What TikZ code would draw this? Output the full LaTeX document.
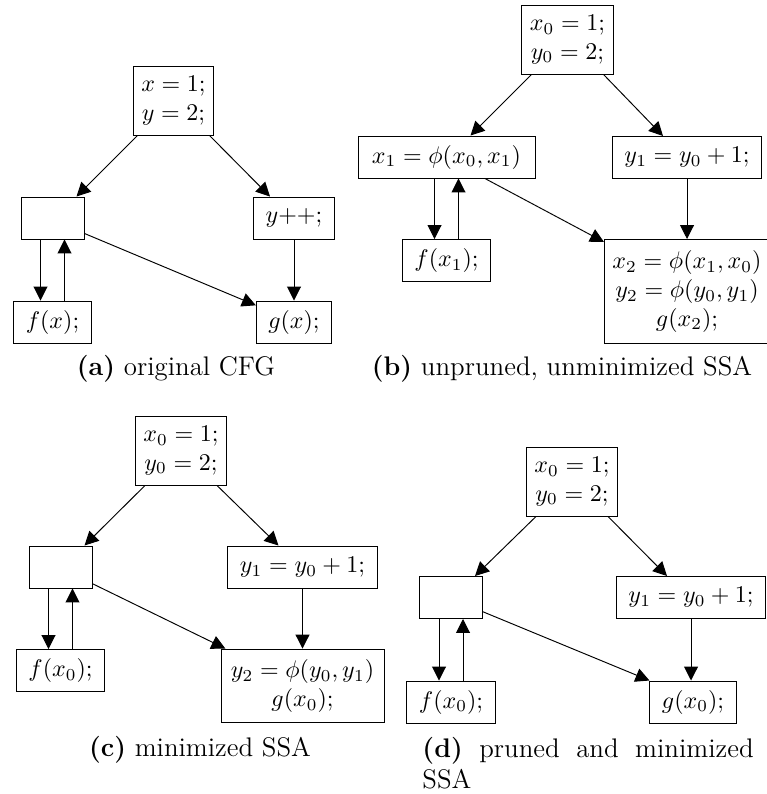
\documentclass[tikz,border=0pt]{standalone}
\usetikzlibrary{arrows.meta,positioning}
\tikzset{
  block/.style={draw, inner xsep=5pt, inner ysep=3pt, minimum height=17.5pt},
  entry/.style={draw, align=center, inner sep=3.33pt, minimum height=28.75pt},
  merge/.style={draw, align=center, inner sep=3.33pt},
  void/.style={block, minimum width=26.25pt},
  flow/.style={-{Triangle[length=5.8pt,width=5.8pt]}},
  subcap/.style={inner sep=0pt, anchor=base, font=\fontsize{11.2pt}{13pt}\selectfont}
}
\begin{document}
\begin{tikzpicture}[x=0.41667pt, y=-0.41667pt]
\useasboundingbox (0,0) rectangle (766,794);

% (a) original CFG
\node[entry] (a0) at (173.5,100.5) {$x = 1;$\\ $y = 2;$};
\node[void]  (a1) at (52.5,218) {};
\node[block] (a2) at (294,218) {$y{+}{+};$};
\node[block] (a3) at (52.5,322) {$f(x);$};
\node[block] (a4) at (294,322) {$g(x);$};
\draw[flow] ([xshift=-15pt]a0.south) -- ([xshift=10pt]a1.north);
\draw[flow] ([xshift=15pt]a0.south) -- ([xshift=-10pt]a2.north);
\draw[flow] ([xshift=-5pt]a1.south) -- ([xshift=-5pt]a3.north);
\draw[flow] ([xshift=5pt]a3.north) -- ([xshift=5pt]a1.south);
\draw[flow] ([yshift=2.5pt]a1.south east) -- ([yshift=-2pt]a4.north west);
\draw[flow] (a2.south) -- (a2.south |- a4.north);
\node[subcap] (capa) at (176,375) {\textbf{(a)} original CFG};

% (b) unpruned, unminimized SSA
\node[entry] (b0) at (567.5,39.5) {$x_0 = 1;$\\ $y_0 = 2;$};
\node[block, minimum width=73.75pt] (b1) at (446.5,157) {$x_1 = \phi(x_0, x_1)$};
\node[block, anchor=north west] (b2) at (612,136) {$y_1 = y_0 + 1;$};
\node[block] (b3) at (446.5,260.5) {$f(x_1);$};
\node[merge, anchor=north west, minimum height=43.3pt] (b4) at (604,239)
  {$x_2 = \phi(x_1, x_0)$\\ $y_2 = \phi(y_0, y_1)$\\ $g(x_2);$};
\draw[flow] ([xshift=-15pt]b0.south) -- ([xshift=10pt]b1.north);
\draw[flow] ([xshift=15pt]b0.south) -- ([xshift=-10pt]b2.north);
\draw[flow] ([xshift=-5pt]b1.south) -- ([xshift=-5pt]b3.north);
\draw[flow] ([xshift=5pt]b3.north) -- ([xshift=5pt]b1.south);
\draw[flow] ([xshift=16pt]b1.south) -- ([yshift=-1.25pt]b4.north west);
\draw[flow] (b2.south) -- (b2.south |- b4.north);
\node[subcap] (capb) at (562,375) {\textbf{(b)} unpruned, unminimized SSA};

% (c) minimized SSA
\node[entry] (c0) at (181,450.5) {$x_0 = 1;$\\ $y_0 = 2;$};
\node[void]  (c1) at (60.5,567) {};
\node[block] (c2) at (302.5,567) {$y_1 = y_0 + 1;$};
\node[block] (c3) at (60.5,670.5) {$f(x_0);$};
\node[merge, minimum width=67.9pt, minimum height=30.8pt] (c4) at (302.5,686)
  {$y_2 = \phi(y_0, y_1)$\\ $g(x_0);$};
\draw[flow] ([xshift=-15pt]c0.south) -- ([xshift=10pt]c1.north);
\draw[flow] ([xshift=15pt]c0.south) -- ([xshift=-10pt]c2.north);
\draw[flow] ([xshift=-5pt]c1.south) -- ([xshift=-5pt]c3.north);
\draw[flow] ([xshift=5pt]c3.north) -- ([xshift=5pt]c1.south);
\draw[flow] ([yshift=2pt]c1.south east) -- ([xshift=2pt]c4.north west);
\draw[flow] (c2.south) -- (c2.south |- c4.north);
\node[subcap] (capc) at (200,756) {\textbf{(c)} minimized SSA};

% (d) pruned and minimized SSA
\node[entry] (d0) at (572,481.5) {$x_0 = 1;$\\ $y_0 = 2;$};
\node[void]  (d1) at (451,597.5) {};
\node[block, anchor=north west] (d2) at (616,576) {$y_1 = y_0 + 1;$};
\node[block] (d3) at (451,702) {$f(x_0);$};
\node[block] (d4) at (693,702) {$g(x_0);$};
\draw[flow] ([xshift=-15pt]d0.south) -- ([xshift=10pt]d1.north);
\draw[flow] ([xshift=15pt]d0.south) -- ([xshift=-10pt]d2.north);
\draw[flow] ([xshift=-5pt]d1.south) -- ([xshift=-5pt]d3.north);
\draw[flow] ([xshift=5pt]d3.north) -- ([xshift=5pt]d1.south);
\draw[flow] ([yshift=3pt]d1.south east) -- (d4.north west);
\draw[flow] (d2.south) -- (d2.south |- d4.north);
\node[inner sep=0pt, anchor=north west, text width=138pt, align=justify,
  font=\fontsize{11.2pt}{13pt}\selectfont] (capd) at (422,737)
  {\textbf{(d)} pruned and minimized SSA};
\end{tikzpicture}
\end{document}
